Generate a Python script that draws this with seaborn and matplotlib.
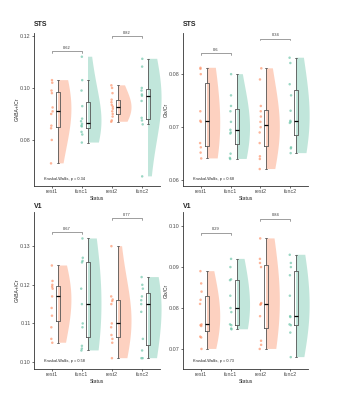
import numpy as np
import pandas as pd
import matplotlib
matplotlib.use("Agg")
import matplotlib.pyplot as plt
import seaborn as sns
from matplotlib.patches import Rectangle

status = ["rest1", "func1", "rest2", "func2"]

# STS GABA+/Cr
sts_gaba_rest1 = [0.1030, 0.1020, 0.0990, 0.0980, 0.0925, 0.0910, 0.0900, 0.0855, 0.0845, 0.0800, 0.0710]
sts_gaba_func1 = [0.1120, 0.1030, 0.0990, 0.0930, 0.0882, 0.0872, 0.0862, 0.0855, 0.0852, 0.0831, 0.0821, 0.0790]
sts_gaba_rest2 = [0.1010, 0.1000, 0.0980, 0.0955, 0.0945, 0.0935, 0.0928, 0.0920, 0.0910, 0.0900, 0.0890, 0.0875, 0.0870]
sts_gaba_func2 = [0.1112, 0.1082, 0.1000, 0.0990, 0.0975, 0.0970, 0.0950, 0.0885, 0.0875, 0.0860, 0.0660]

# STS Glx/Cr
sts_glx_rest1 = [0.0812, 0.0810, 0.0800, 0.0730, 0.0712, 0.0710, 0.0670, 0.0662, 0.0652, 0.0641]
sts_glx_func1 = [0.0800, 0.0760, 0.0740, 0.0730, 0.0710, 0.0695, 0.0690, 0.0688, 0.0650, 0.0642, 0.0640]
sts_glx_rest2 = [0.0811, 0.0790, 0.0740, 0.0730, 0.0720, 0.0710, 0.0700, 0.0690, 0.0670, 0.0645, 0.0640, 0.0621]
sts_glx_func2 = [0.0831, 0.0821, 0.0781, 0.0760, 0.0731, 0.0712, 0.0710, 0.0708, 0.0662, 0.0660, 0.0651]

# V1 GABA+/Cr
v1_gaba_rest1 = [0.1250, 0.1210, 0.1200, 0.1195, 0.1190, 0.1170, 0.1140, 0.1120, 0.1090, 0.1060, 0.1050]
v1_gaba_func1 = [0.1320, 0.1270, 0.1262, 0.1258, 0.1190, 0.1150, 0.1100, 0.1090, 0.1042, 0.1035, 0.1030]
v1_gaba_rest2 = [0.1300, 0.1170, 0.1162, 0.1158, 0.1150, 0.1100, 0.1090, 0.1070, 0.1060, 0.1050, 0.1010]
v1_gaba_func2 = [0.1220, 0.1200, 0.1190, 0.1170, 0.1160, 0.1150, 0.1130, 0.1060, 0.1030, 0.1010, 0.1010]

# V1 Glx/Cr
v1_glx_rest1 = [0.0890, 0.0860, 0.0840, 0.0820, 0.0810, 0.0760, 0.0758, 0.0756, 0.0730, 0.0728, 0.0700]
v1_glx_func1 = [0.0920, 0.0900, 0.0870, 0.0868, 0.0830, 0.0800, 0.0790, 0.0760, 0.0758, 0.0750, 0.0748]
v1_glx_rest2 = [0.0970, 0.0920, 0.0910, 0.0900, 0.0812, 0.0810, 0.0808, 0.0780, 0.0720, 0.0710, 0.0700]
v1_glx_func2 = [0.0930, 0.0910, 0.0900, 0.0880, 0.0830, 0.0780, 0.0778, 0.0760, 0.0758, 0.0740, 0.0680]

panel_groups = [
    [sts_gaba_rest1, sts_gaba_func1, sts_gaba_rest2, sts_gaba_func2],
    [sts_glx_rest1, sts_glx_func1, sts_glx_rest2, sts_glx_func2],
    [v1_gaba_rest1, v1_gaba_func1, v1_gaba_rest2, v1_gaba_func2],
    [v1_glx_rest1, v1_glx_func1, v1_glx_rest2, v1_glx_func2],
]
panel_titles = ["STS", "STS", "V1", "V1"]
panel_ylabels = ["GABA+/Cr", "Glx/Cr", "GABA+/Cr", "Glx/Cr"]
kw_pvals = ["0.34", "0.68", "0.58", "0.73"]
pair_pvals = [("0.62", "0.82"), ("0.6", "0.34"), ("0.67", "0.77"), ("0.29", "0.84")]

# layout / annotation positions
bracket_y = [(0.1142, 0.1199), (0.0840, 0.0867), (0.1336, 0.1372), (0.0984, 0.1018)]
y_limits = [(0.0623, 0.1212), (0.0589, 0.0878), (0.0982, 0.1388), (0.0651, 0.1034)]
y_ticks = [[0.08, 0.10, 0.12], [0.06, 0.07, 0.08], [0.10, 0.11, 0.12, 0.13], [0.07, 0.08, 0.09, 0.10]]
axes_rects = [
    [0.099, 0.535, 0.369, 0.383],
    [0.535, 0.535, 0.366, 0.383],
    [0.099, 0.0775, 0.369, 0.392],
    [0.535, 0.0775, 0.366, 0.392],
]
title_pads = [5, 5, 3, 3]

palette = {"rest": "#FC8D62", "func": "#66C2A5"}

sns.set_style("ticks")
plt.rcParams["font.family"] = ["Liberation Sans", "DejaVu Sans"]

np.random.seed(3)


def make_df(groups):
    rows = []
    for name, vals in zip(status, groups):
        for v in vals:
            rows.append((name, v))
    df = pd.DataFrame(rows, columns=["Status", "value"])
    df["pos"] = df["Status"].map({s: i for i, s in enumerate(status)}).astype(float)
    df["box_pos"] = df["pos"] + 0.2
    df["kind"] = df["Status"].str[:-1]
    return df


fig = plt.figure(figsize=(3.42, 4.0), dpi=100)

for i in range(4):
    ax = fig.add_axes(axes_rects[i])
    df = make_df(panel_groups[i])

    # half violins: draw full, then clip the left half away
    n0 = len(ax.collections)
    sns.violinplot(data=df, x="box_pos", y="value", hue="kind", palette=palette,
                   native_scale=True, dodge=False, cut=0, inner=None, linewidth=0,
                   width=0.9, density_norm="width", bw_method="silverman", bw_adjust=1.8,
                   saturation=1, legend=False, ax=ax)
    for coll in ax.collections[n0:]:
        coll.set_alpha(0.4)
        coll.set_edgecolor("none")
        verts = coll.get_paths()[0].vertices
        cx = (verts[:, 0].min() + verts[:, 0].max()) / 2
        clip = Rectangle((cx, -1), 5, 3, transform=ax.transData)
        coll.set_clip_path(clip)

    sns.boxplot(data=df, x="box_pos", y="value", native_scale=True, width=0.13,
                fill=False, color="#555555", linewidth=0.6, showfliers=False,
                medianprops={"color": "black", "linewidth": 0.9}, ax=ax)

    sns.stripplot(data=df, x="pos", y="value", hue="kind", palette=palette,
                  native_scale=True, jitter=0.03, size=1.8, alpha=0.65, linewidth=0,
                  legend=False, ax=ax)

    # pairwise brackets
    lo, hi = y_limits[i]
    h = (hi - lo) * 0.012
    for (a, b), y, lab in zip([(0, 1), (2, 3)], bracket_y[i], pair_pvals[i]):
        ax.plot([a, a, b, b], [y - h, y, y, y - h], color="#777777", lw=0.5)
        ax.text((a + b) / 2, y + h * 0.7, lab, ha="center", va="bottom",
                fontsize=2.9, color="#333333")

    ax.text(0.08, 0.048, "Kruskal-Wallis, p = " + kw_pvals[i], transform=ax.transAxes,
            ha="left", va="center", fontsize=2.8, color="#222222")

    ax.set_xlim(-0.6, 3.6)
    ax.set_ylim(lo, hi)
    ax.set_xticks(range(4))
    ax.set_xticklabels(status)
    ax.set_yticks(y_ticks[i])
    ax.set_yticklabels(["%.2f" % t for t in y_ticks[i]])
    ax.tick_params(axis="both", labelsize=3.9, length=1.5, width=0.5, pad=0.8,
                   colors="#333333", labelcolor="#4d4d4d")
    ax.set_xlabel("Status", fontsize=3.6)
    ax.set_ylabel(panel_ylabels[i], fontsize=3.6)
    ax.xaxis.set_label_coords(0.5, -0.065)
    ax.yaxis.set_label_coords(-0.115, 0.5)
    ax.set_title(panel_titles[i], loc="left", fontsize=5, fontweight="bold",
                 pad=title_pads[i])
    sns.despine(ax=ax)
    for side in ["left", "bottom"]:
        ax.spines[side].set_linewidth(0.6)
        ax.spines[side].set_color("#333333")

fig.savefig("out.png", dpi=100)
